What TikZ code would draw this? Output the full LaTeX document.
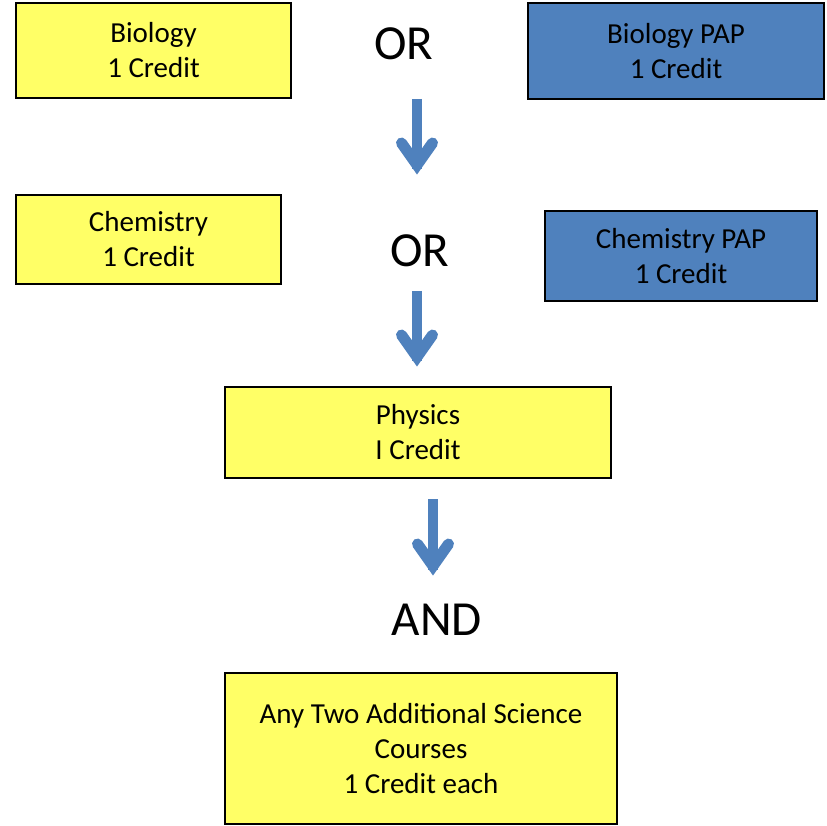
\documentclass[tikz,border=0pt]{standalone}
\usepackage{fontspec}
\setmainfont{Carlito}
\definecolor{boxyellow}{RGB}{255,255,102}
\definecolor{boxblue}{RGB}{79,129,189}
\begin{document}
\begin{tikzpicture}[x=1pt,y=-1pt,
  box/.style={draw=black,line width=1.5pt,align=center,inner sep=0pt,
    font=\fontsize{29}{35}\selectfont},
  ybox/.style={box,fill=boxyellow},
  bbox/.style={box,fill=boxblue},
  word/.style={font=\fontsize{49}{52}\selectfont,inner sep=0pt},
  shaft/.style={draw=boxblue,line width=10pt},
  head/.style={draw=boxblue,line width=11pt,line cap=round,line join=miter}]
\useasboundingbox (0,0) rectangle (827,826);
\node[ybox,minimum width=275,minimum height=95] (bio) at (153.5,50.5) {Biology\\1 Credit};
\node[bbox,minimum width=296,minimum height=96] (biopap) at (676,51) {Biology PAP\\1 Credit};
\node[word] (or1) at (404,44) {OR};
\node[ybox,minimum width=265,minimum height=89] (chem) at (148.5,239.5) {Chemistry\\1 Credit};
\node[bbox,minimum width=272,minimum height=90] (chempap) at (681,256) {Chemistry PAP\\1 Credit};
\node[word] (or2) at (420,251) {OR};
\node[ybox,minimum width=386,minimum height=91] (phys) at (418,432.5) {Physics\\I Credit};
\node[word] (and) at (437,620) {AND};
\node[ybox,minimum width=392,minimum height=151] (any) at (421,748.5) {Any Two Additional Science\\Courses\\1 Credit each};
% arrows
\coordinate (a1s) at (417,99);
\coordinate (a1t) at (417,165);
\draw[shaft] (a1s) -- ([yshift=-4]a1t);
\draw[head] ([shift={(-15.5,-22)}]a1t) -- (a1t) -- ([shift={(15.5,-22)}]a1t);
\coordinate (a2s) at (417,291);
\coordinate (a2t) at (417,357);
\draw[shaft] (a2s) -- ([yshift=-4]a2t);
\draw[head] ([shift={(-15.5,-22)}]a2t) -- (a2t) -- ([shift={(15.5,-22)}]a2t);
\coordinate (a3s) at (433,499);
\coordinate (a3t) at (433,566);
\draw[shaft] (a3s) -- ([yshift=-4]a3t);
\draw[head] ([shift={(-15.5,-22)}]a3t) -- (a3t) -- ([shift={(15.5,-22)}]a3t);
\end{tikzpicture}
\end{document}
